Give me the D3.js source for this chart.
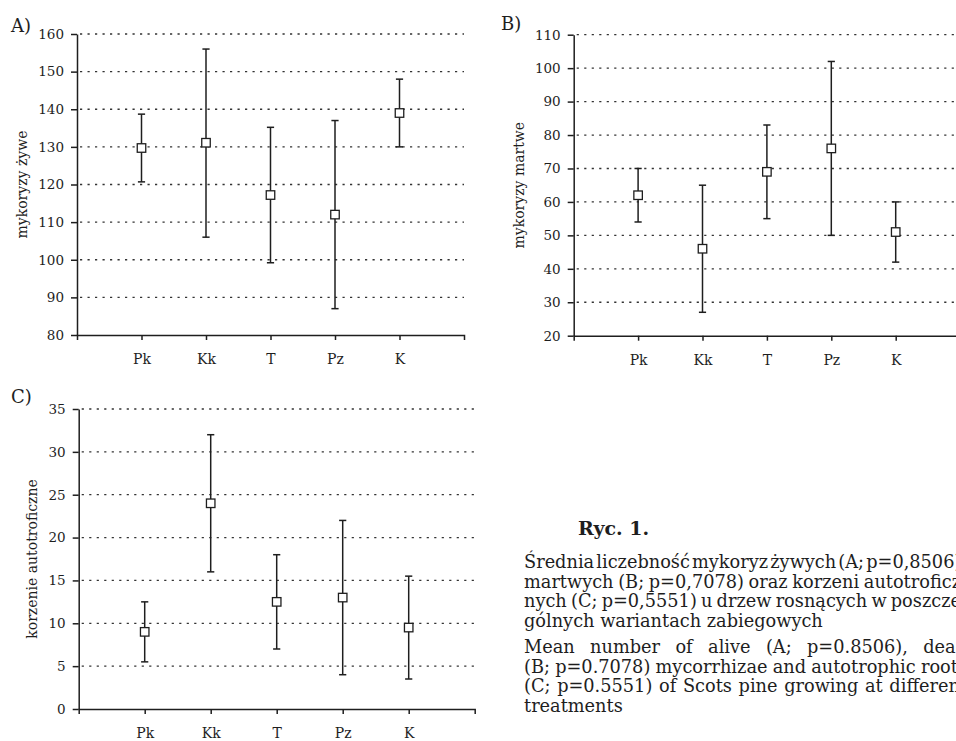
<!DOCTYPE html>
<html><head><meta charset="utf-8">
<script src="https://cdn.jsdelivr.net/npm/d3@7"></script>
<style>
html,body{margin:0;padding:0;background:#fff;overflow:hidden;}
svg{display:block}
</style></head><body>
<svg id="c" width="956" height="741"></svg>
<script>
// ---- data ----
const categories = ["Pk", "Kk", "T", "Pz", "K"];

const aliveMean = [129.7, 131.1, 117.2, 112.0, 139.0];
const aliveLow  = [120.7, 106.0, 99.2, 87.0, 130.0];
const aliveHigh = [138.7, 156.0, 135.2, 137.0, 148.0];

const deadMean = [62, 46, 69, 76, 51];
const deadLow  = [54, 27, 55, 50, 42];
const deadHigh = [70, 65, 83, 102, 60];

const autoMean = [9, 24, 12.5, 13, 9.5];
const autoLow  = [5.5, 16, 7, 4, 3.5];
const autoHigh = [12.5, 32, 18, 22, 15.5];

const ticksA = [80, 90, 100, 110, 120, 130, 140, 150, 160];
const ticksB = [20, 30, 40, 50, 60, 70, 80, 90, 100, 110];
const ticksC = [0, 5, 10, 15, 20, 25, 30, 35];

const panelLabels = ["A)", "B)", "C)"];
const axisTitles = ["mykoryzy żywe", "mykoryzy martwe", "korzenie autotroficzne"];

const captionTitle = "Ryc. 1.";
const captionPL = [
  "Średnia liczebność mykoryz żywych (A; p=0,8506),",
  "martwych (B; p=0,7078) oraz korzeni autotroficz-",
  "nych (C; p=0,5551) u drzew rosnących w poszcze-",
  "gólnych wariantach zabiegowych"
];
const captionEN = [
  "Mean number of alive (A; p=0.8506), dead",
  "(B; p=0.7078) mycorrhizae and autotrophic roots",
  "(C; p=0.5551) of Scots pine growing at different",
  "treatments"
];

// ---- layout ----
const svg = d3.select("#c");
const INK = "#1e1e1e";
const FONT = "DejaVu Serif";

const panels = [
  {label: panelLabels[0], title: axisTitles[0], mean: aliveMean, low: aliveLow, high: aliveHigh, ticks: ticksA,
   x0: 77, x1: 464, yTop: 34, yBot: 335, labelX: 11, labelY: 32, titleX: 22},
  {label: panelLabels[1], title: axisTitles[1], mean: deadMean, low: deadLow, high: deadHigh, ticks: ticksB,
   x0: 573.7, x1: 960.1, yTop: 34.7, yBot: 335.7, labelX: 501, labelY: 30, titleX: 519},
  {label: panelLabels[2], title: axisTitles[2], mean: autoMean, low: autoLow, high: autoHigh, ticks: ticksC,
   x0: 78.7, x1: 474.7, yTop: 409, yBot: 709, labelX: 11, labelY: 403, titleX: 32}
];

panels.forEach(p => {
  const g = svg.append("g");
  const x = d3.scalePoint().domain(categories).range([p.x0, p.x1]).padding(1);
  const y = d3.scaleLinear().domain([p.ticks[0], p.ticks[p.ticks.length - 1]]).range([p.yBot, p.yTop]);

  // gridlines
  g.append("g").selectAll("line").data(p.ticks.slice(1)).join("line")
    .attr("x1", p.x0 + 3).attr("x2", p.x1)
    .attr("y1", d => y(d)).attr("y2", d => y(d))
    .attr("stroke", "#333").attr("stroke-width", 1.3)
    .attr("stroke-dasharray", "2.2,5.3");

  // y axis
  const ya = g.append("g").attr("transform", `translate(${p.x0},0)`)
    .call(d3.axisLeft(y).tickValues(p.ticks).tickSize(6).tickSizeOuter(0).tickPadding(7).tickFormat(d3.format("d")));
  // x axis
  const xa = g.append("g").attr("transform", `translate(0,${p.yBot})`)
    .call(d3.axisBottom(x).tickSize(5).tickSizeOuter(5).tickPadding(14));

  [ya, xa].forEach(a => {
    a.selectAll("path, line").attr("stroke", INK).attr("stroke-width", 1.5);
    a.selectAll("text").attr("font-family", FONT).attr("fill", INK);
  });
  ya.selectAll("text").attr("font-size", 13.5);
  xa.selectAll("text").attr("font-size", 14);

  // error bars
  const capW = 3.6;
  const eg = g.append("g").attr("stroke", INK).attr("stroke-width", 1.5);
  categories.forEach((c, i) => {
    const cx = x(c);
    eg.append("line").attr("x1", cx).attr("x2", cx).attr("y1", y(p.low[i])).attr("y2", y(p.high[i]));
    eg.append("line").attr("x1", cx - capW).attr("x2", cx + capW).attr("y1", y(p.low[i])).attr("y2", y(p.low[i]));
    eg.append("line").attr("x1", cx - capW).attr("x2", cx + capW).attr("y1", y(p.high[i])).attr("y2", y(p.high[i]));
  });
  const s = 8.5;
  g.append("g").selectAll("rect").data(categories).join("rect")
    .attr("x", c => x(c) - s / 2).attr("y", (c, i) => y(p.mean[i]) - s / 2)
    .attr("width", s).attr("height", s)
    .attr("fill", "#fff").attr("stroke", INK).attr("stroke-width", 1.3);

  // panel label
  g.append("text").attr("x", p.labelX).attr("y", p.labelY).text(p.label)
    .attr("font-family", FONT).attr("font-size", 18).attr("fill", INK);
  // axis title
  g.append("text")
    .attr("transform", `translate(${p.titleX},${(p.yTop + p.yBot) / 2}) rotate(-90)`)
    .attr("text-anchor", "middle").attr("dy", "0.35em")
    .attr("font-family", FONT).attr("font-size", 14).attr("fill", INK)
    .text(p.title);
});

// ---- caption ----
const capX = 524, capRight = 967;
const capG = svg.append("g").attr("font-family", FONT).attr("fill", INK);
capG.append("text").attr("x", 578).attr("y", 535).attr("font-weight", "bold").attr("font-size", 19).text(captionTitle);

// size the body font so the last Polish line spans its measured width
const probe = capG.append("text").attr("font-size", 100).text(captionPL[3]);
const bodySize = 100 * 299 / probe.node().getComputedTextLength();
probe.remove();

function drawPara(lines, baseY, lead) {
  lines.forEach((ln, li) => {
    const t = capG.append("text").attr("y", baseY + li * lead).attr("font-size", bodySize);
    const words = ln.split(" ");
    const last = li === lines.length - 1;
    const widths = words.map(w => {
      const m = capG.append("text").attr("font-size", bodySize).text(w);
      const wd = m.node().getComputedTextLength(); m.remove(); return wd;
    });
    const sp = capG.append("text").attr("font-size", bodySize).text("a a");
    const sa = capG.append("text").attr("font-size", bodySize).text("aa");
    const spaceW = sp.node().getComputedTextLength() - sa.node().getComputedTextLength();
    sp.remove(); sa.remove();
    const total = d3.sum(widths);
    const gap = last ? spaceW : (capRight - capX - total) / (words.length - 1);
    let cx = capX;
    words.forEach((w, wi) => {
      t.append("tspan").attr("x", cx).text(w);
      cx += widths[wi] + gap;
    });
  });
}
drawPara(captionPL, 568, 19.6);
drawPara(captionEN, 653, 19.6);
</script>
</body></html>
